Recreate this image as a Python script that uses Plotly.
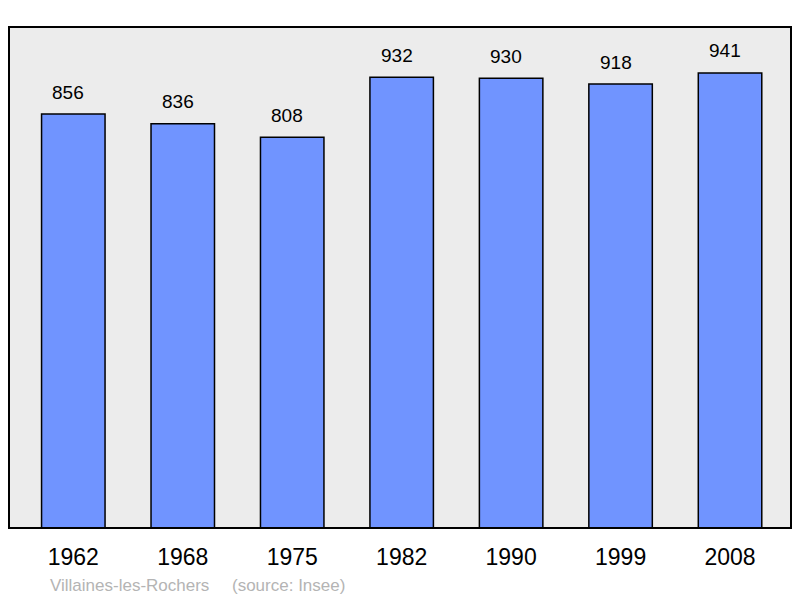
import plotly.graph_objects as go

years = ["1962", "1968", "1975", "1982", "1990", "1999", "2008"]
population = [856, 836, 808, 932, 930, 918, 941]
commune = "Villaines-les-Rochers"
source = "(source: Insee)"

# page has an 8px body margin; figure occupies page x 8..800, y 8..598
OFF = 8
W, H = 800 - OFF, 598 - OFF
L, R, T, B = 9 - OFF, 791 - OFF, 27 - OFF, 528 - OFF
FONT = "Liberation Sans, Arial, sans-serif"

fig = go.Figure()
fig.add_trace(go.Bar(
    x=years, y=population, width=0.58,
    marker=dict(color="#7094ff", line=dict(color="#000000", width=1.5)),
    hoverinfo="x+y",
))

for i, v in enumerate(population):
    fig.add_annotation(x=i, y=v, text=str(v), showarrow=False,
                       yanchor="middle", yshift=22, xshift=-5,
                       font=dict(family=FONT, size=19, color="#000"))

fy = -((585 - OFF) - B) / (B - T)
fig.add_annotation(xref="paper", yref="paper", x=((48 - OFF) - L) / (R - L), y=fy,
                   xanchor="left", yanchor="middle", showarrow=False, text=commune,
                   font=dict(family=FONT, size=17, color="#b4b4b4"))
fig.add_annotation(xref="paper", yref="paper", x=((230 - OFF) - L) / (R - L), y=fy,
                   xanchor="left", yanchor="middle", showarrow=False, text=source,
                   font=dict(family=FONT, size=17, color="#b4b4b4"))

fig.add_shape(type="rect", xref="paper", yref="paper", x0=0, x1=1, y0=0, y1=1,
              line=dict(color="#000", width=2), fillcolor="rgba(0,0,0,0)", layer="above")

fig.update_layout(
    width=W, height=H,
    margin=dict(l=L, r=W - R, t=T, b=H - B, autoexpand=False),
    paper_bgcolor="#ffffff", plot_bgcolor="#ececec",
    showlegend=False,
    xaxis=dict(type="category", range=[-0.5875, 6.557], showgrid=False, zeroline=False,
               ticks="", ticklabelstandoff=13, fixedrange=True,
               tickfont=dict(family=FONT, size=23, color="#000")),
    yaxis=dict(range=[0, 1036], showgrid=False, zeroline=False, showticklabels=False,
               ticks="", fixedrange=True),
)

fig.write_html("out.html")
